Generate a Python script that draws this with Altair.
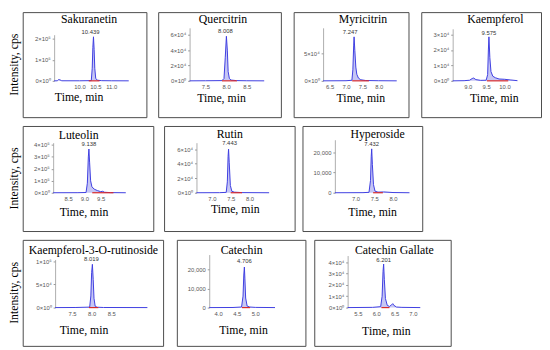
import altair as alt
import pandas as pd

SERIF = "Liberation Serif"
SANS = "Liberation Sans Narrow, Liberation Sans, sans-serif"

# ---------------- data ----------------
compounds = ["Sakuranetin", "Quercitrin", "Myricitrin", "Kaempferol", "Luteolin",
             "Rutin", "Hyperoside", "Kaempferol-3-O-rutinoside", "Catechin", "Catechin Gallate"]
peak_labels = ["10.439", "8.008", "7.247", "9.575", "9.138", "7.443", "7.432", "8.019", "4.706", "6.201"]

sak_t = [9.20, 9.30, 9.34, 9.38, 9.44, 10.00, 10.37, 10.40, 10.42, 10.439, 10.46, 10.48, 10.51, 10.56, 10.70, 11.00, 11.55]
sak_y = [0, 200, 6000, 5000, 300, 200, 1000, 60000, 160000, 210000, 150000, 60000, 12000, 3000, 800, 300, 0]
que_t = [7.12, 7.50, 7.90, 7.95, 7.98, 8.008, 8.03, 8.05, 8.08, 8.12, 8.25, 8.50, 8.92]
que_y = [0, 100, 300, 3000, 30000, 58000, 40000, 12000, 3000, 1000, 300, 100, 0]
myr_t = [6.30, 7.00, 7.18, 7.21, 7.235, 7.247, 7.27, 7.30, 7.33, 7.38, 7.45, 7.60, 8.00, 8.55]
myr_y = [0, 200, 1000, 20000, 65000, 80000, 55000, 25000, 12000, 5000, 2000, 600, 200, 0]
kae_t = [8.59, 8.90, 9.05, 9.12, 9.16, 9.22, 9.35, 9.50, 9.54, 9.56, 9.575, 9.60, 9.63, 9.68, 9.75, 9.85, 10.00, 10.15, 10.35]
kae_y = [0, 100, 400, 1500, 1800, 800, 300, 400, 4000, 20000, 28500, 15000, 6000, 3000, 2000, 1200, 1000, 600, 100]
lut_t = [8.04, 8.80, 9.05, 9.09, 9.12, 9.138, 9.16, 9.19, 9.23, 9.30, 9.40, 9.50, 9.56, 9.62, 9.80, 10.27]
lut_y = [0, 500, 2000, 80000, 300000, 366000, 250000, 100000, 50000, 30000, 18000, 9000, 12000, 4000, 1000, 0]
rut_t = [6.59, 7.20, 7.38, 7.41, 7.43, 7.443, 7.46, 7.49, 7.53, 7.60, 7.80, 8.52]
rut_y = [0, 100, 500, 15000, 50000, 60000, 42000, 10000, 2000, 800, 200, 0]
hyp_t = [6.45, 7.20, 7.36, 7.40, 7.42, 7.432, 7.45, 7.48, 7.52, 7.60, 7.75, 8.00, 8.44]
hyp_y = [0, 50, 200, 6000, 18000, 21600, 14000, 4000, 800, 300, 400, 100, 0]
k3r_t = [7.07, 7.60, 7.95, 7.98, 8.00, 8.019, 8.04, 8.06, 8.09, 8.14, 8.30, 9.42]
k3r_y = [0, 200, 1000, 25000, 75000, 93000, 60000, 20000, 3000, 800, 200, 0]
cat_t = [3.76, 4.40, 4.63, 4.67, 4.69, 4.706, 4.72, 4.74, 4.78, 4.85, 5.00, 5.53]
cat_y = [0, 50, 300, 6000, 17000, 21200, 15000, 5000, 800, 300, 100, 0]
cg_t = [5.22, 5.90, 6.12, 6.16, 6.185, 6.201, 6.22, 6.25, 6.30, 6.36, 6.42, 6.45, 6.48, 6.55, 6.70, 7.20]
cg_y = [0, 200, 800, 10000, 32000, 38500, 25000, 8000, 2000, 1000, 2500, 3500, 2000, 500, 200, 0]

series_t = [sak_t, que_t, myr_t, kae_t, lut_t, rut_t, hyp_t, k3r_t, cat_t, cg_t]
series_y = [sak_y, que_y, myr_y, kae_y, lut_y, rut_y, hyp_y, k3r_y, cat_y, cg_y]

# integration (red) ranges
red_start = [10.29, 7.90, 7.19, 9.52, 9.24, 7.50, 7.47, 7.93, 4.64, 6.14]
red_end = [10.63, 8.26, 7.70, 10.10, 9.89, 7.80, 7.73, 8.17, 4.86, 6.36]

x_domains = [[9.2, 11.55], [7.12, 8.92], [6.3, 8.55], [8.59, 10.35], [8.04, 10.27],
             [6.59, 8.52], [6.45, 8.44], [7.07, 9.42], [3.76, 5.53], [5.22, 7.2]]
y_max = [220000, 69000, 96400, 33700, 419000, 68900, 26100, 103400, 27700, 46000]

x_ticks = [[10.0, 10.5, 11.0], [7.5, 8.0, 8.5], [6.5, 7.0, 7.5, 8.0], [9.0, 9.5, 10.0], [8.5, 9.0, 9.5],
           [7.0, 7.5, 8.0], [7.0, 7.5, 8.0], [7.5, 8.0, 8.5], [4.0, 4.5, 5.0], [5.5, 6.0, 6.5, 7.0]]
y_ticks = [[0, 100000, 200000], [0, 20000, 40000, 60000], [0, 50000], [0, 10000, 20000, 30000],
           [0, 100000, 200000, 300000, 400000], [0, 20000, 40000, 60000], [0, 10000, 20000],
           [0, 50000, 100000], [0, 10000, 20000], [0, 10000, 20000, 30000, 40000]]
y_tick_labels = [["0×10⁰", "1×10⁵", "2×10⁵"], ["0×10⁰", "2×10⁴", "4×10⁴", "6×10⁴"], ["0×10⁰", "5×10⁴"],
                 ["0×10⁰", "1×10⁴", "2×10⁴", "3×10⁴"], ["0×10⁰", "1×10⁵", "2×10⁵", "3×10⁵", "4×10⁵"],
                 ["0×10⁰", "2×10⁴", "4×10⁴", "6×10⁴"], ["0", "10,000", "20,000"],
                 ["0×10⁰", "5×10⁴", "1×10⁵"], ["0", "10,000", "20,000"],
                 ["0×10⁰", "1×10⁴", "2×10⁴", "3×10⁴", "4×10⁴"]]

# ---------------- layout (pixels inside each box) ----------------
layout = [
    dict(w=126, h=107, xr=[32, 108], yr=[70, 23], dx=4, tb=11, tx=57, ty=20, pdx=-3, pdy=-3),
    dict(w=125, h=107, xr=[32, 108], yr=[70, 16], dx=3, tb=11, tx=64, ty=21, pdx=-1, pdy=-3),
    dict(w=117, h=107, xr=[30, 105], yr=[70, 16], dx=11.5, tb=11, tx=68, ty=21, pdx=-4, pdy=-3),
    dict(w=122, h=107, xr=[32, 98], yr=[70, 17], dx=14, tb=11, tx=74, ty=21, pdx=0, pdy=-2),
    dict(w=133, h=107, xr=[31, 105], yr=[68, 17], dx=-10, tb=12.3, tx=62, ty=22.7, pdx=0, pdy=-3),
    dict(w=133, h=107, xr=[33, 107], yr=[68, 17], dx=0, tb=11.7, tx=72, ty=20.3, pdx=1, pdy=-4),
    dict(w=122, h=107, xr=[33, 109], yr=[68, 14], dx=15, tb=11.3, tx=71, ty=22.7, pdx=0, pdy=-3),
    dict(w=143, h=108, xr=[33, 127], yr=[69, 20], dx=0, tb=13.5, tx=62, ty=26, pdx=-1, pdy=-3),
    dict(w=131, h=108, xr=[33, 100], yr=[69, 15], dx=0, tb=13.5, tx=67.5, ty=26, pdx=0, pdy=-4),
    dict(w=139, h=108, xr=[34, 108], yr=[69, 16], dx=11.5, tb=13.5, tx=73, ty=27, pdx=0, pdy=-2),
]


def make_panel(i):
    lay = layout[i]
    w, h = lay["w"], lay["h"]
    df = pd.DataFrame({"t": series_t[i], "y": series_y[i]})
    rdf = pd.DataFrame({"t": [red_start[i]], "t2": [red_end[i]], "y": [0]})
    ldf = pd.DataFrame({"t": [float(peak_labels[i])], "y": [max(series_y[i])], "label": [peak_labels[i]]})

    xs = alt.Scale(domain=x_domains[i], range=lay["xr"], nice=False, zero=False)
    ys = alt.Scale(domain=[0, y_max[i]], range=lay["yr"], nice=False, zero=False)
    expr = " : ".join(f"datum.value == {v} ? '{s}'" for v, s in zip(y_ticks[i], y_tick_labels[i])) + " : ''"

    xa = alt.Axis(values=x_ticks[i], format=".1f", domain=False, ticks=False, grid=False,
                  labelFont=SANS, labelFontSize=6, labelColor="#555", labelPadding=3,
                  labelOverlap=False, labelFlush=False, offset=lay["yr"][0] - h,
                  title="Time, min", titleFont=SERIF, titleFontSize=12, titleFontWeight="normal",
                  titleColor="black", titleX=lay["tx"], titleY=lay["ty"],
                  titleBaseline="alphabetic", titleAlign="center")
    # the compound name is carried by the y axis title, placed at the top of the box
    ya = alt.Axis(values=y_ticks[i], labelExpr=expr, grid=False, domainColor="#999",
                  domainWidth=0.8, tickColor="#999", tickSize=2, labelFont=SANS, labelFontSize=6,
                  labelColor="#555", labelPadding=2, labelOverlap=False, labelFlush=False,
                  offset=-lay["xr"][0],
                  title=compounds[i], titleFont=SERIF, titleFontSize=12, titleFontWeight="normal",
                  titleColor="black", titleAngle=0, titleAlign="center", titleBaseline="alphabetic",
                  titleX=w / 2 + lay["dx"] - lay["xr"][0], titleY=lay["tb"])
    X = alt.X("t:Q", scale=xs, axis=xa)
    Y = alt.Y("y:Q", scale=ys, axis=ya)

    area = alt.Chart(df).mark_area(color="#c6c6f4", opacity=1).encode(x=X, y=Y)
    line = alt.Chart(df).mark_line(color="#3d3de0", strokeWidth=1).encode(x=X, y=Y)
    red = alt.Chart(rdf).mark_rule(color="#d82828", strokeWidth=1.2).encode(x=X, x2="t2:Q", y=Y)
    lab = alt.Chart(ldf).mark_text(font=SANS, fontSize=6, color="#333", dx=lay["pdx"],
                                   dy=lay["pdy"], baseline="alphabetic").encode(x=X, y=Y, text="label:N")
    return alt.layer(area, line, red, lab).properties(width=w, height=h)


P = [make_panel(i) for i in range(10)]


def row_title():
    return alt.TitleParams("Intensity, cps", orient="left", anchor="middle", font=SERIF,
                           fontSize=12, fontWeight="normal", color="black", offset=1)


row1 = alt.hconcat(P[0], alt.hconcat(P[1], P[2], P[3], spacing=11), spacing=10, title=row_title())
row2 = alt.hconcat(alt.hconcat(P[4], P[5], spacing=9), P[6], spacing=6, title=row_title())
row3 = alt.hconcat(P[7], alt.hconcat(P[8], P[9], spacing=7), spacing=12, title=row_title())

chart = alt.vconcat(row1, row2, row3, spacing=7).properties(
    padding={"left": 0, "top": 0, "right": 0, "bottom": 0}
).configure_view(stroke="#4a4a4a", strokeWidth=1)

chart.save("out.html", embed_options={"renderer": "svg", "actions": False})
